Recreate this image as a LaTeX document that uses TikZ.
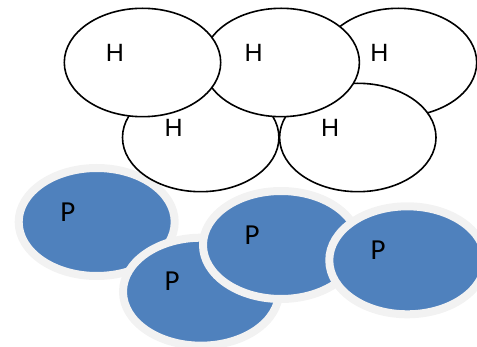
\documentclass[tikz,border=0pt]{standalone}
\usepackage{fontspec}
\usetikzlibrary{shapes.geometric}
\newfontfamily\hfont{Liberation Sans}
\newfontfamily\pfont{Carlito}
\definecolor{pblue}{HTML}{4F81BD}
\definecolor{pgray}{HTML}{F2F2F2}
\tikzset{
  hell/.style={ellipse, draw=black, line width=1.6pt, fill=white,
    minimum width=156.4pt, minimum height=108.4pt, inner sep=0pt},
  pell/.style={ellipse, draw=pgray, line width=8pt, fill=pblue,
    minimum width=156pt, minimum height=108pt, inner sep=0pt},
  hlab/.style={font=\hfont\fontsize{25}{25}\selectfont, inner sep=0pt, text=black},
  plab/.style={font=\pfont\fontsize{29}{29}\selectfont, inner sep=0pt, text=black}
}
\begin{document}
\begin{tikzpicture}[x=1pt,y=-1pt]
\useasboundingbox (0,0) rectangle (477,347);
\clip (0,0) rectangle (477,347);
% P ellipses
\node[pell] (p1) at (96.7,222) {};
\node[pell] (p2) at (201,291.7) {};
\node[pell] (p3) at (281,245) {};
\node[pell] (p4) at (407.3,260.3) {};
% H ellipses
\node[hell] (h5) at (398.5,62.5) {};
\node[hell] (h4) at (357.8,137.5) {};
\node[hell] (h3) at (200.7,137.5) {};
\node[hell] (h2) at (281.2,62.5) {};
\node[hell] (h1) at (142.5,62.5) {};
% labels
\node[hlab] (lh1) at (115,53) {H};
\node[hlab] (lh2) at (253.7,53) {H};
\node[hlab] (lh5) at (379.5,53) {H};
\node[hlab] (lh3) at (173.7,128) {H};
\node[hlab] (lh4) at (330.2,127.5) {H};
\node[plab] (lp1) at (67.8,212.5) {P};
\node[plab] (lp2) at (172,281) {P};
\node[plab] (lp3) at (252,235) {P};
\node[plab] (lp4) at (378,250) {P};
\end{tikzpicture}
\end{document}
